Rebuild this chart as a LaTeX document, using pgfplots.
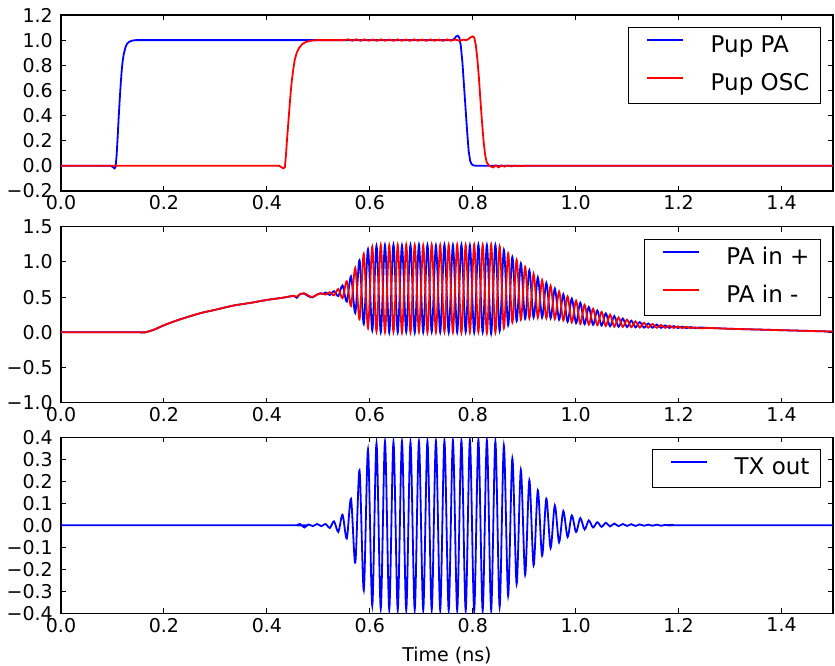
\documentclass[border=0pt]{standalone}
\usepackage{fontspec}
\setmainfont{DejaVu Sans}
\usepackage{pgfplots}
\usepackage{pgfplotstable}
\pgfplotsset{compat=1.18}

\pgfplotstableread{
t plus minus
0.000 0.000 0.000
0.150 0.000 0.000
0.163 0.000 0.000
0.180 0.035 0.035
0.200 0.100 0.100
0.230 0.180 0.180
0.270 0.270 0.270
0.300 0.320 0.320
0.335 0.380 0.380
0.370 0.420 0.420
0.400 0.460 0.460
0.430 0.490 0.490
0.452 0.515 0.520
0.458 0.490 0.505
0.465 0.545 0.545
0.472 0.550 0.555
0.480 0.515 0.525
0.488 0.495 0.500
0.496 0.530 0.530
0.504 0.555 0.550
0.509 0.545 0.548
0.5140 0.565 0.535
0.5223 0.530 0.570
0.5305 0.585 0.525
0.5388 0.515 0.615
0.5470 0.665 0.485
0.5553 0.435 0.725
0.5635 0.795 0.375
0.5718 0.275 0.915
0.5800 1.025 0.185
0.5883 0.115 1.115
0.5965 1.180 0.060
0.6048 0.025 1.215
0.6130 1.230 0.010
0.6213 0.000 1.240
0.6295 1.240 0.000
0.6378 -0.005 1.235
0.6460 1.245 0.005
0.6543 0.000 1.240
0.6625 1.235 -0.005
0.6708 0.005 1.245
0.6790 1.240 0.000
0.6873 -0.005 1.240
0.6955 1.245 0.005
0.7038 0.000 1.235
0.7120 1.240 -0.005
0.7203 0.005 1.245
0.7285 1.235 0.000
0.7368 0.000 1.240
0.7450 1.245 0.005
0.7533 -0.005 1.240
0.7615 1.240 0.000
0.7698 0.000 1.245
0.7780 1.245 -0.005
0.7863 0.005 1.240
0.7945 1.240 0.000
0.8028 -0.005 1.245
0.8110 1.245 0.005
0.8193 0.000 1.240
0.8275 1.240 -0.010
0.8358 -0.020 1.245
0.8440 1.240 0.000
0.8523 0.020 1.220
0.8605 1.170 0.060
0.8688 0.100 1.120
0.8770 1.070 0.140
0.8853 0.160 1.030
0.8935 0.980 0.180
0.9018 0.190 0.930
0.9100 0.880 0.200
0.9183 0.210 0.830
0.9265 0.780 0.210
0.9348 0.210 0.740
0.9430 0.700 0.200
0.9513 0.200 0.660
0.9595 0.620 0.190
0.9678 0.180 0.580
0.9760 0.540 0.170
0.9843 0.150 0.510
0.9925 0.480 0.140
1.0008 0.130 0.450
1.0090 0.420 0.120
1.0173 0.115 0.390
1.0255 0.360 0.110
1.0338 0.105 0.335
1.0420 0.310 0.100
1.0503 0.095 0.290
1.0585 0.270 0.090
1.0668 0.085 0.250
1.0750 0.230 0.080
1.0833 0.078 0.210
1.0915 0.195 0.076
1.0998 0.074 0.180
1.1080 0.165 0.072
1.1163 0.070 0.155
1.1245 0.145 0.068
1.1328 0.066 0.135
1.1410 0.125 0.065
1.1493 0.064 0.118
1.1575 0.110 0.064
1.1658 0.063 0.104
1.1740 0.098 0.063
1.1823 0.062 0.093
1.1905 0.088 0.062
1.1988 0.061 0.084
1.2070 0.080 0.061
1.2153 0.060 0.077
1.2235 0.074 0.059
1.2318 0.058 0.071
1.2400 0.068 0.057
1.2600 0.062 0.061
1.3000 0.050 0.050
1.3500 0.040 0.040
1.4000 0.030 0.030
1.4500 0.020 0.020
1.5000 0.010 0.010
}\patable

\pgfplotstableread{
t v
0.000 0
0.450 0
0.458 0
0.4645 0.006
0.4728 -0.010
0.4810 0.004
0.4893 -0.004
0.4975 0.006
0.5058 -0.004
0.5140 0.006
0.5223 -0.012
0.5305 0.018
0.5388 -0.030
0.5470 0.048
0.5553 -0.060
0.5635 0.120
0.5718 -0.170
0.5800 0.250
0.5883 -0.295
0.5965 0.345
0.6048 -0.365
0.6130 0.372
0.6213 -0.378
0.6295 0.380
0.6378 -0.382
0.6460 0.378
0.6543 -0.383
0.6625 0.380
0.6708 -0.384
0.6790 0.378
0.6873 -0.383
0.6955 0.380
0.7038 -0.385
0.7120 0.382
0.7203 -0.384
0.7285 0.381
0.7368 -0.385
0.7450 0.383
0.7533 -0.386
0.7615 0.384
0.7698 -0.386
0.7780 0.385
0.7863 -0.387
0.7945 0.386
0.8028 -0.388
0.8110 0.387
0.8193 -0.387
0.8275 0.385
0.8358 -0.385
0.8440 0.380
0.8523 -0.370
0.8605 0.362
0.8688 -0.320
0.8770 0.304
0.8853 -0.266
0.8935 0.252
0.9018 -0.225
0.9100 0.205
0.9183 -0.182
0.9265 0.159
0.9348 -0.138
0.9430 0.121
0.9513 -0.103
0.9595 0.090
0.9678 -0.077
0.9760 0.065
0.9843 -0.053
0.9925 0.045
1.0008 -0.031
1.0090 0.033
1.0173 -0.019
1.0255 0.022
1.0338 -0.010
1.0420 0.014
1.0503 -0.007
1.0585 0.011
1.0668 -0.005
1.0750 0.008
1.0833 -0.004
1.0915 0.006
1.0998 -0.003
1.1080 0.005
1.1163 -0.003
1.1245 0.004
1.1328 -0.002
1.1410 0.003
1.1493 -0.002
1.1575 0.003
1.1658 -0.002
1.1740 0.002
1.1823 -0.001
1.1905 0.002
1.2000 0
1.5000 0
}\txtable

\pgfplotsset{
  myax/.style={
    width=772pt, height=176pt, scale only axis,
    xmin=0, xmax=1.5,
    xtick={0,0.2,0.4,0.6,0.8,1.0,1.2,1.4},
    xticklabels={0.0,0.2,0.4,0.6,0.8,1.0,1.2,1.4},
    tick align=inside,
    major tick length=5pt,
    axis line style={line width=1.1pt, black},
    every tick/.style={black, line width=0.9pt},
    tick label style={font=\fontsize{19}{22}\selectfont},
    x tick label style={inner sep=0pt, yshift=-4.5pt},
    y tick label style={inner sep=0pt, xshift=-8pt},
    legend style={at={(1,1)}, anchor=north east, xshift=-12pt, yshift=-12pt,
      draw=black, line width=1.1pt, fill=white,
      inner xsep=11pt, inner ysep=8pt,
      font=\fontsize{23}{27}\selectfont,
      row sep=16pt, column sep=27pt,
      cells={anchor=west},
      nodes={inner sep=0pt, text height=17pt, text depth=5pt}},
    legend image code/.code={\path (0pt,0pt); \draw[##1, line width=1.8pt] (6pt,6.5pt) -- (42pt,6.5pt);},
  },
  dline/.style={line width=1.8pt},
}

\begin{document}
\begin{tikzpicture}
\path[use as bounding box] (-61pt,-52.7pt) rectangle (774pt,613.3pt);

% Top axis
\begin{axis}[myax, at={(0pt,422.3pt)}, anchor=south west,
  ymin=-0.2, ymax=1.2,
  ytick={-0.2,0,0.2,0.4,0.6,0.8,1.0,1.2},
  yticklabels={−0.2,0.0,0.2,0.4,0.6,0.8,1.0,1.2}]
\addlegendimage{dline, blue}
\addlegendentry{Pup PA}
\addlegendimage{dline, red}
\addlegendentry{Pup OSC}
\addplot[dline, blue, forget plot] coordinates {
(0,0) (0.097,0) (0.101,-0.01) (0.104,-0.02) (0.106,-0.01) (0.108,0.08) (0.110,0.22)
(0.112,0.38) (0.114,0.52) (0.116,0.65) (0.118,0.76) (0.120,0.84) (0.122,0.89)
(0.125,0.94) (0.128,0.97) (0.132,0.985) (0.137,0.995) (0.145,1.0) (0.76,1.0)
(0.764,1.01) (0.768,1.03) (0.771,1.035) (0.774,1.02) (0.777,0.95) (0.780,0.82)
(0.783,0.64) (0.786,0.46) (0.789,0.28) (0.792,0.12) (0.795,0.04) (0.798,0.012)
(0.802,0.003) (0.808,0) (1.5,0)};
\addplot[dline, red, forget plot] coordinates {
(0,0) (0.424,0) (0.428,-0.01) (0.432,-0.02) (0.435,-0.01) (0.437,0.08) (0.439,0.2)
(0.442,0.36) (0.445,0.52) (0.448,0.66) (0.451,0.76) (0.454,0.84) (0.458,0.9)
(0.463,0.94) (0.469,0.97) (0.476,0.985) (0.485,0.995) (0.495,1.0) (0.55,1.0)
(0.558,1.006) (0.566,0.996) (0.574,1.007) (0.582,0.995) (0.590,1.006) (0.598,0.996)
(0.606,1.005) (0.614,0.995) (0.622,1.006) (0.630,0.996) (0.638,1.005) (0.646,0.995)
(0.654,1.006) (0.662,0.996) (0.670,1.005) (0.678,0.995) (0.686,1.006) (0.694,0.996)
(0.702,1.005) (0.710,0.995) (0.718,1.006) (0.726,0.996) (0.734,1.005) (0.742,0.995)
(0.750,1.006) (0.758,0.996) (0.766,1.005) (0.774,0.995) (0.782,1.004) (0.788,1.0)
(0.792,1.01) (0.797,1.025) (0.800,1.03) (0.803,1.02) (0.806,0.96) (0.809,0.85)
(0.812,0.70) (0.815,0.52) (0.818,0.35) (0.821,0.20) (0.824,0.09) (0.827,0.03)
(0.831,0.005) (0.835,-0.005) (0.840,-0.012) (0.845,0.004) (0.850,-0.012) (0.856,0.003)
(0.862,-0.006) (0.868,0.003) (0.875,-0.004) (0.882,0.002) (0.890,-0.002) (0.900,0) (1.5,0)};
\end{axis}

% Middle axis
\begin{axis}[myax, at={(0pt,210.6pt)}, anchor=south west,
  ymin=-1.0, ymax=1.5,
  ytick={-1.0,-0.5,0,0.5,1.0,1.5},
  yticklabels={−1.0,−0.5,0.0,0.5,1.0,1.5}]
\addlegendimage{dline, blue}
\addlegendentry{PA in +}
\addlegendimage{dline, red}
\addlegendentry{PA in -}
\addplot[dline, blue, smooth, forget plot] table[x=t, y=plus] {\patable};
\addplot[dline, red, smooth, forget plot] table[x=t, y=minus] {\patable};
\end{axis}

% Bottom axis
\begin{axis}[myax, at={(0pt,0pt)}, anchor=south west,
  ymin=-0.4, ymax=0.4,
  ytick={-0.4,-0.3,-0.2,-0.1,0,0.1,0.2,0.3,0.4},
  yticklabels={−0.4,−0.3,−0.2,−0.1,0.0,0.1,0.2,0.3,0.4},
  xlabel={Time (ns)},
  xlabel style={at={(axis description cs:0.5,0)}, anchor=base, yshift=-48.2pt, inner sep=0pt, font=\fontsize{19}{22}\selectfont}]
\addlegendimage{dline, blue}
\addlegendentry{TX out}
\addplot[dline, blue, smooth, forget plot] table[x=t, y=v] {\txtable};
\end{axis}
\end{tikzpicture}
\end{document}
